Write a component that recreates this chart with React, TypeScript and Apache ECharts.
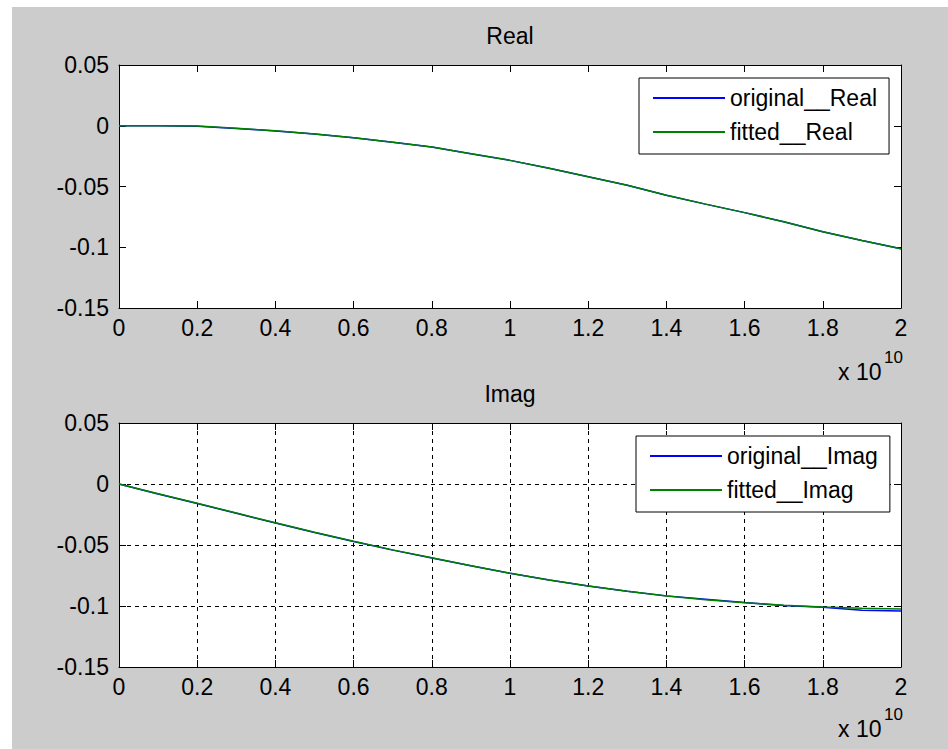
import React, { useEffect, useRef } from "react";
import * as echarts from "echarts";

// Frequency in Hz (axis shown in units of 1e10)
const freqHz = [
  0, 1e9, 2e9, 3e9, 4e9, 5e9, 6e9, 7e9, 8e9, 9e9, 1e10,
  1.1e10, 1.2e10, 1.3e10, 1.4e10, 1.5e10, 1.6e10, 1.7e10, 1.8e10, 1.9e10, 2e10,
];

const originalReal = [
  0, 0, -0.0005, -0.0022, -0.0043, -0.0068, -0.0098, -0.0135, -0.0175, -0.023, -0.0285,
  -0.035, -0.042, -0.049, -0.0572, -0.0645, -0.0715, -0.079, -0.0873, -0.0945, -0.1013,
];
const fittedReal = [
  0, 0, -0.0003, -0.0021, -0.0042, -0.0068, -0.0098, -0.0135, -0.0175, -0.023, -0.0285,
  -0.035, -0.042, -0.049, -0.0572, -0.0645, -0.0715, -0.079, -0.0873, -0.0945, -0.1013,
];

const originalImag = [
  0, -0.0082, -0.016, -0.024, -0.032, -0.0397, -0.0472, -0.0542, -0.0606, -0.067, -0.0732,
  -0.0787, -0.0836, -0.088, -0.0917, -0.0945, -0.0972, -0.0996, -0.101, -0.1035, -0.104,
];
const fittedImag = [
  0, -0.008, -0.0158, -0.0238, -0.0318, -0.0395, -0.047, -0.054, -0.0605, -0.067, -0.0732,
  -0.0787, -0.0836, -0.088, -0.0918, -0.0948, -0.0973, -0.0993, -0.1008, -0.1018, -0.1025,
];

const panelTitles = ["Real", "Imag"];
const seriesNames = [
  ["original__Real", "fitted__Real"],
  ["original__Imag", "fitted__Imag"],
];

const FONT = "Liberation Sans";
const FS = 23;

const pairs = (ys: number[]) => freqHz.map((x, i) => [x, ys[i]]);

export default function App() {
  const ref = useRef<HTMLDivElement>(null);

  useEffect(() => {
    if (!ref.current) return;
    const chart = echarts.init(ref.current, null, { renderer: "svg" });

    const grids = [
      { left: 119, top: 65, width: 782, height: 243 },
      { left: 119, top: 423, width: 782, height: 244 },
    ];

    const axisLine = { show: true, onZero: false, lineStyle: { color: "#000", width: 1 } };
    const axisTick = { show: true, inside: true, length: 7, lineStyle: { color: "#000", width: 1 } };
    const labelStyle = { color: "#000", fontSize: FS, fontFamily: FONT };
    const dashed = { show: true, lineStyle: { color: "#000", type: [4, 4] as any, width: 1 } };

    const xAxes: any[] = [];
    const yAxes: any[] = [];
    [0, 1].forEach((g) => {
      const grid = g === 1;
      xAxes.push({
        type: "value", gridIndex: g, position: "bottom", min: 0, max: 2e10, interval: 2e9,
        axisLine, axisTick,
        axisLabel: {
          ...labelStyle, margin: 8,
          formatter: (v: number) => String(+(v / 1e10).toFixed(4)),
        },
        splitLine: grid ? dashed : { show: false },
      });
      xAxes.push({
        type: "value", gridIndex: g, position: "top", min: 0, max: 2e10, interval: 2e9,
        axisLine, axisTick, axisLabel: { show: false }, splitLine: { show: false },
      });
      yAxes.push({
        type: "value", gridIndex: g, position: "left", min: -0.15, max: 0.05, interval: 0.05,
        axisLine, axisTick,
        axisLabel: { ...labelStyle, margin: 10, formatter: (v: number) => String(+v.toFixed(4)) },
        splitLine: grid ? dashed : { show: false },
      });
      yAxes.push({
        type: "value", gridIndex: g, position: "right", min: -0.15, max: 0.05, interval: 0.05,
        axisLine, axisTick, axisLabel: { show: false }, splitLine: { show: false },
      });
    });

    const mk = (name: string, data: number[], color: string, g: number) => ({
      type: "line", name, data: pairs(data), xAxisIndex: g * 2, yAxisIndex: g * 2,
      showSymbol: false, symbol: "none", silent: true, smooth: false,
      lineStyle: { color, width: 1.5 }, itemStyle: { color },
    });

    const legendBase = {
      orient: "vertical", itemWidth: 72, itemHeight: 2, icon: "rect", itemGap: 10,
      padding: [8, 12, 10, 14], borderColor: "#000", borderWidth: 1, backgroundColor: "#fff",
      selectedMode: false,
      textStyle: { color: "#000", fontSize: FS, fontFamily: FONT, lineHeight: 24 },
    };

    chart.setOption({
      animation: false,
      backgroundColor: "#fff",
      graphic: [
        { type: "rect", z: -10, shape: { x: 12, y: 7, width: 936, height: 742 }, style: { fill: "#cccccc" }, silent: true },
        { type: "text", x: 838, y: 372, style: { text: "x 10", fill: "#000", font: `${FS}px "${FONT}"`, verticalAlign: "middle" } },
        { type: "text", x: 884, y: 357, style: { text: "10", fill: "#000", font: `17px "${FONT}"`, verticalAlign: "middle" } },
        { type: "text", x: 838, y: 729, style: { text: "x 10", fill: "#000", font: `${FS}px "${FONT}"`, verticalAlign: "middle" } },
        { type: "text", x: 884, y: 714, style: { text: "10", fill: "#000", font: `17px "${FONT}"`, verticalAlign: "middle" } },
      ],
      title: panelTitles.map((t, i) => ({
        text: t, left: 510, top: i === 0 ? 24 : 382, textAlign: "center", padding: 0,
        textStyle: { color: "#000", fontSize: FS, fontWeight: "normal", fontFamily: FONT },
      })),
      grid: grids.map((g) => ({ ...g, backgroundColor: "#fff", show: true, borderWidth: 0 })),
      xAxis: xAxes,
      yAxis: yAxes,
      legend: [
        { ...legendBase, left: 639, top: 78, data: seriesNames[0] },
        { ...legendBase, left: 636, top: 436, data: seriesNames[1] },
      ],
      series: [
        mk(seriesNames[0][0], originalReal, "#0000ff", 0),
        mk(seriesNames[0][1], fittedReal, "#008000", 0),
        mk(seriesNames[1][0], originalImag, "#0000ff", 1),
        mk(seriesNames[1][1], fittedImag, "#008000", 1),
      ],
    });

    return () => chart.dispose();
  }, []);

  return (
    <div
      ref={ref}
      style={{ position: "fixed", left: 0, top: 0, width: 948, height: 749 }}
    />
  );
}
